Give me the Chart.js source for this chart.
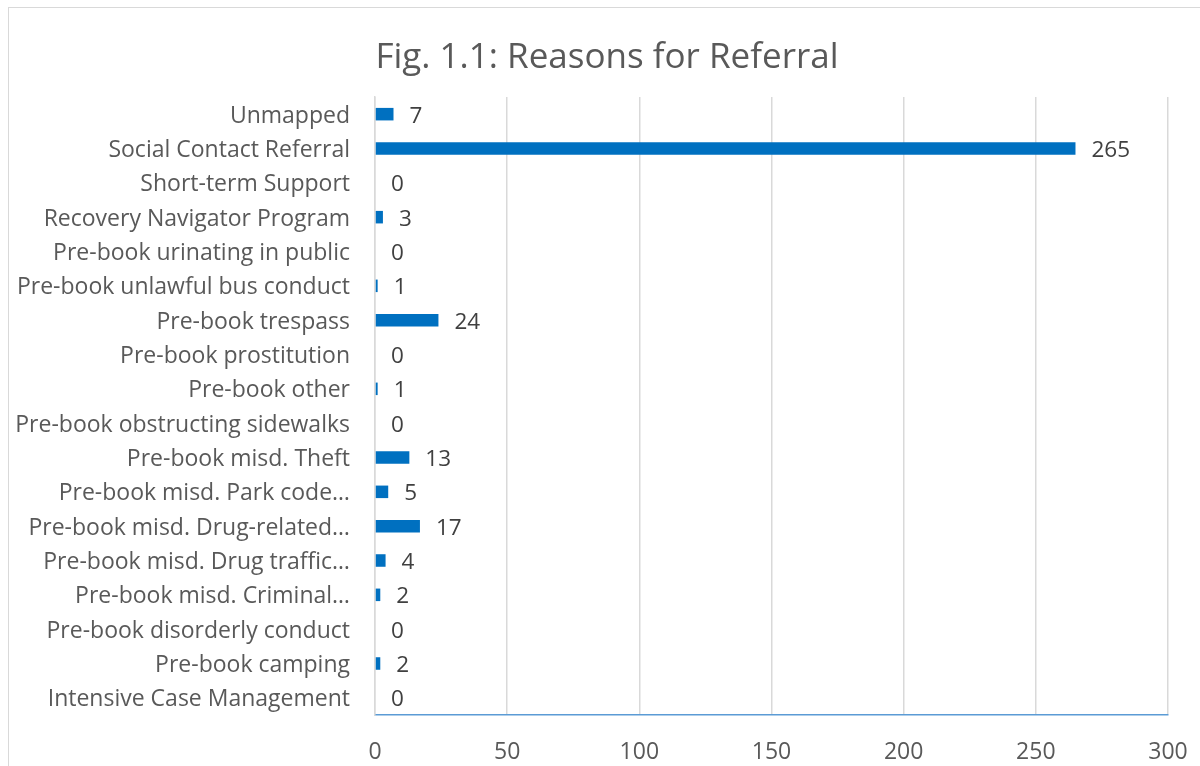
<!DOCTYPE html>
<html>
<head>
  <title>Reasons for Referral</title>
  <script src="https://cdn.jsdelivr.net/npm/chart.js"></script>
  <style>
    body {
      margin: 0;
      width: 1200px;
      height: 766px;
      overflow: hidden;
      background: #fff;
      position: relative;
      font-family: 'Open Sans', sans-serif;
    }
    .frame {
      position: absolute;
      left: 8px;
      top: 7px;
      width: 1250px;
      height: 820px;
      border: 1px solid #d9d9d9;
    }
    .wrap {
      position: absolute;
      left: 0;
      top: 0;
      width: 1200px;
      height: 766px;
    }
  </style>
</head>
<body>
  <div class="frame"></div>
  <div class="wrap"><canvas id="referralChart" width="1200" height="766"></canvas></div>

  <script>
    const chartTitle = 'Fig. 1.1: Reasons for Referral';
    const categories = [
      'Unmapped',
      'Social Contact Referral',
      'Short-term Support',
      'Recovery Navigator Program',
      'Pre-book urinating in public',
      'Pre-book unlawful bus conduct',
      'Pre-book trespass',
      'Pre-book prostitution',
      'Pre-book other',
      'Pre-book obstructing sidewalks',
      'Pre-book misd. Theft',
      'Pre-book misd. Park code…',
      'Pre-book misd. Drug-related…',
      'Pre-book misd. Drug traffic…',
      'Pre-book misd. Criminal…',
      'Pre-book disorderly conduct',
      'Pre-book camping',
      'Intensive Case Management'
    ];
    const referrals = [7, 265, 0, 3, 0, 1, 24, 0, 1, 0, 13, 5, 17, 4, 2, 0, 2, 0];
    const xTicks = [0, 50, 100, 150, 200, 250, 300];

    // title drawn off-centre like the original, plus value labels at bar ends
    const decorations = {
      id: 'decorations',
      afterDatasetsDraw(chart) {
        const ctx = chart.ctx;
        const meta = chart.getDatasetMeta(0);
        ctx.save();
        ctx.font = '35px "Open Sans", sans-serif';
        ctx.fillStyle = '#595959';
        ctx.textAlign = 'center';
        ctx.textBaseline = 'alphabetic';
        ctx.fillText(chartTitle, 607, 68);

        ctx.font = '22.5px "Open Sans", sans-serif';
        ctx.fillStyle = '#404040';
        ctx.textAlign = 'left';
        ctx.textBaseline = 'middle';
        meta.data.forEach((bar, i) => {
          ctx.fillText(String(referrals[i]), bar.x + 16, bar.y + 2);
        });
        ctx.restore();
      }
    };

    const ctx = document.getElementById('referralChart').getContext('2d');
    new Chart(ctx, {
      type: 'bar',
      data: {
        labels: categories,
        datasets: [{
          label: 'Referrals',
          data: referrals,
          backgroundColor: '#0070c0',
          barPercentage: 0.365,
          categoryPercentage: 1
        }]
      },
      options: {
        indexAxis: 'y',
        responsive: false,
        animation: false,
        devicePixelRatio: 1,
        layout: { padding: { left: 0, right: 32, top: 97, bottom: 0 } },
        plugins: {
          legend: { display: false },
          tooltip: { enabled: false },
          title: { display: false }
        },
        scales: {
          x: {
            min: 0,
            max: 300,
            afterBuildTicks: scale => { scale.ticks = xTicks.map(v => ({ value: v })); },
            afterFit: scale => { scale.height = 51; },
            grid: { color: '#d9d9d9', lineWidth: 1.5, drawTicks: true, tickLength: 24, tickColor: 'rgba(0,0,0,0)' },
            border: { color: '#5b9bd5', width: 1.5 },
            ticks: {
              color: '#595959',
              padding: 0,
              font: { family: '"Open Sans", sans-serif', size: 23 }
            }
          },
          y: {
            afterFit: scale => { scale.width = 375; },
            grid: { display: false, drawTicks: false },
            border: { color: '#d9d9d9', width: 1.5 },
            ticks: {
              color: '#595959',
              padding: 25,
              labelOffset: 2,
              autoSkip: false,
              font: { family: '"Open Sans", sans-serif', size: 23 }
            }
          }
        }
      },
      plugins: [decorations]
    });
  </script>
</body>
</html>
